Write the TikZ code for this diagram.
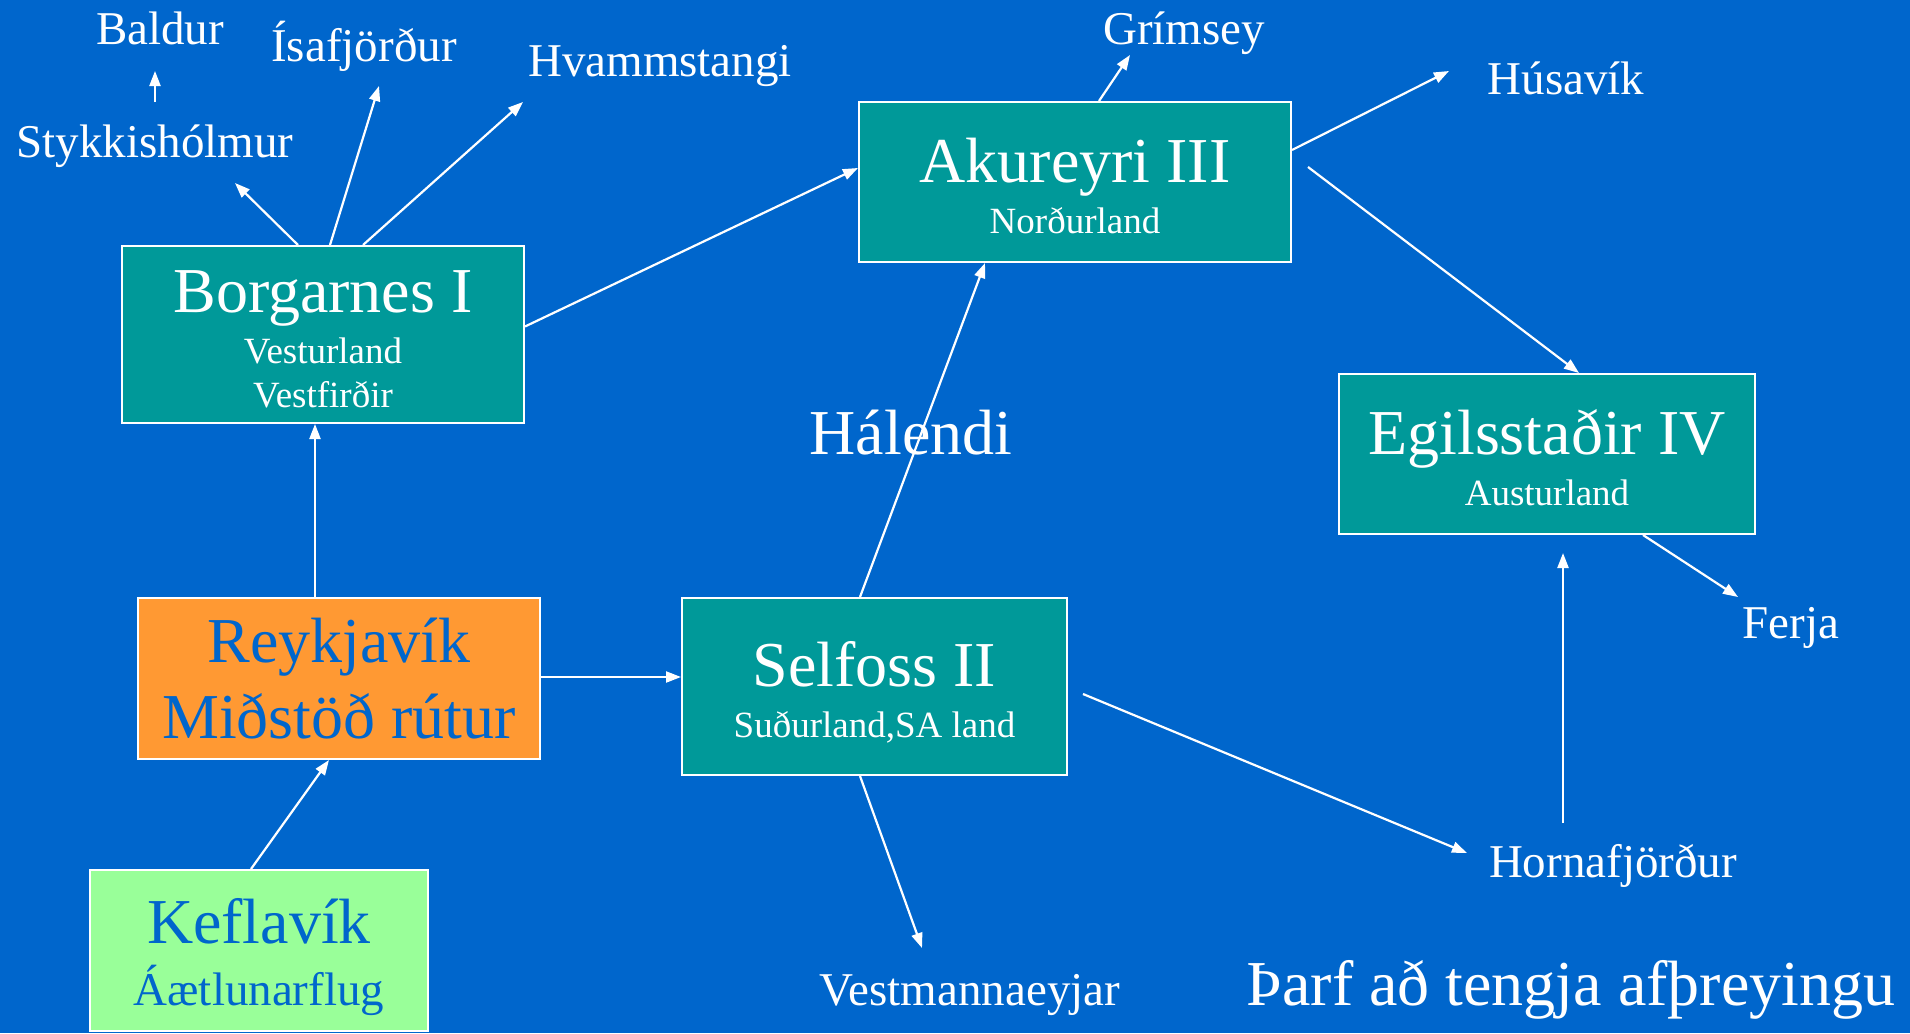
\documentclass[tikz,border=0pt]{standalone}
\usepackage{fontspec}
\setmainfont{Liberation Serif}
\usetikzlibrary{arrows.meta}

\definecolor{bgblue}{RGB}{0,102,204}
\definecolor{teal2}{RGB}{0,153,153}
\definecolor{orng}{RGB}{255,153,51}
\definecolor{lgreen}{RGB}{153,255,153}

\tikzset{
  boxnode/.style={draw=white, line width=2pt, fill=teal2, inner sep=0pt},
  big/.style={text=white, font=\fontsize{64}{70}\selectfont, anchor=base, inner sep=0pt},
  small/.style={text=white, font=\fontsize{37}{40}\selectfont, anchor=base, inner sep=0pt},
  place/.style={text=white, font=\fontsize{47}{50}\selectfont, anchor=base, inner sep=0pt},
  link/.style={white, line width=2.2pt, -{Triangle[length=15pt,width=11pt]}},
}

\begin{document}
\begin{tikzpicture}[x=1pt,y=-1pt]

\fill[bgblue] (0,0) rectangle (1910,1033);
\useasboundingbox (0,0) rectangle (1910,1033);

% boxes
\node[boxnode, minimum width=402pt, minimum height=177pt] (borg) at (323,334.5) {};
\node[boxnode, minimum width=432pt, minimum height=160pt] (akur) at (1075,182) {};
\node[boxnode, minimum width=416pt, minimum height=160pt] (egil) at (1547,454) {};
\node[boxnode, minimum width=385pt, minimum height=177pt] (self) at (874.5,686.5) {};
\node[boxnode, fill=orng, minimum width=402pt, minimum height=161pt] (reyk) at (339,678.5) {};
\node[boxnode, fill=lgreen, minimum width=338pt, minimum height=161pt] (kefl) at (259,950.5) {};

\node[big] (borgT) at (323,312) {Borgarnes I};
\node[small] (borgA) at (323,363) {Vesturland};
\node[small] (borgB) at (323,407) {Vestfirðir};
\node[big] (akurT) at (1075,182) {Akureyri III};
\node[small] (akurA) at (1075,233) {Norðurland};
\node[big] (egilT) at (1547,454) {Egilsstaðir IV};
\node[small] (egilA) at (1547,505) {Austurland};
\node[big] (selfT) at (874.5,686) {Selfoss II};
\node[small] (selfA) at (874.5,737) {Suðurland,SA land};
\node[big, text=bgblue] (reykT) at (339,662) {Reykjavík};
\node[big, text=bgblue] (reykA) at (339,738) {Miðstöð rútur};
\node[big, text=bgblue] (keflT) at (259,943) {Keflavík};
\node[place, text=bgblue] (keflA) at (259,1005) {Áætlunarflug};

% places
\node[place] (bald) at (160,45) {Baldur};
\node[place] (styk) at (155,157) {Stykkishólmur};
\node[place] (isaf) at (364,61) {Ísafjörður};
\node[place] (hvam) at (660,77) {Hvammstangi};
\node[place] (grim) at (1184,45) {Grímsey};
\node[place] (husa) at (1566,94) {Húsavík};
\node[big] (hale) at (911,454) {Hálendi};
\node[place] (ferj) at (1791,638) {Ferja};
\node[place] (horn) at (1613,877) {Hornafjörður};
\node[place] (vest) at (970,1005) {Vestmannaeyjar};
\node[big] (tafl) at (1571,1005) {Þarf að tengja afþreyingu};

% connections
\draw[link] ([yshift=55pt]styk.base) -- ([xshift=-5pt,yshift=-26pt]bald.base);
\draw[link] ([xshift=-25pt]borg.north) -- ([xshift=80pt,yshift=-26pt]styk.base);
\draw[link] ([xshift=7pt]borg.north) -- ([xshift=15pt,yshift=-25pt]isaf.base);
\draw[link] ([xshift=40pt]borg.north) -- ([xshift=-137pt,yshift=-25pt]hvam.base);
\draw[link] ([yshift=8pt]borg.east) -- ([yshift=14pt]akur.west);
\draw[link] ([xshift=24pt]akur.north) -- ([xshift=-54pt,yshift=-10pt]grim.base);
\draw[link] ([yshift=32pt]akur.east) -- ([xshift=-117pt,yshift=23pt]husa.base);
\draw[link] ([xshift=16pt,yshift=15pt]akur.east) -- ([xshift=32pt]egil.north);
\draw[link] ([xshift=96pt]egil.south) -- ([xshift=-53pt,yshift=41pt]ferj.base);
\draw[link] ([xshift=-50pt,yshift=54pt]horn.base) -- ([xshift=16pt,yshift=-18pt]egil.south);
\draw[link] ([xshift=15pt,yshift=-7.5pt]self.east) -- ([xshift=-146pt,yshift=24pt]horn.base);
\draw[link] ([xshift=-14.5pt]self.south) -- ([xshift=-48pt,yshift=57pt]vest.base);
\draw[link] ([xshift=-14.5pt]self.north) -- ([xshift=-90pt]akur.south);
\draw[link] ([yshift=1.5pt]reyk.east) -- ([yshift=9.5pt]self.west);
\draw[link] ([xshift=-24pt]reyk.north) -- ([xshift=-8pt]borg.south);
\draw[link] ([xshift=-8pt]kefl.north) -- ([xshift=-10pt]reyk.south);

\end{tikzpicture}
\end{document}
